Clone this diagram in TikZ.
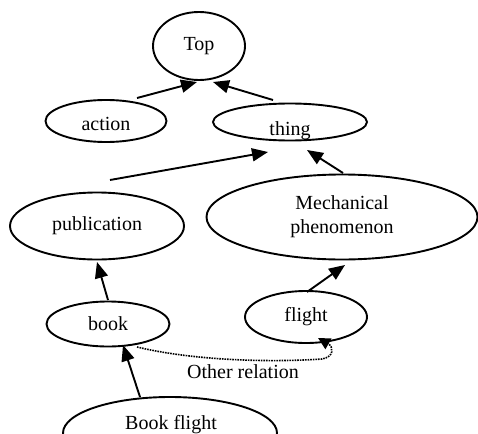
\documentclass[tikz,border=0pt]{standalone}
\usepackage{fontspec}
\setmainfont{Liberation Serif}
\usetikzlibrary{shapes.geometric,arrows.meta,calc}
\begin{document}
\begin{tikzpicture}[x=1pt,y=-1pt,
  concept/.style={ellipse,draw,line width=1.9pt,inner sep=0pt,
    font=\fontsize{20}{24}\selectfont,align=center},
  caption/.style={font=\fontsize{20}{24}\selectfont},
  isa/.style={line width=1.9pt,-{Triangle[length=16pt,width=13pt]}},
  relation/.style={line width=1.6pt,densely dotted,-{Triangle[length=12pt,width=12pt]}}]
\useasboundingbox (0,0) rectangle (478,433);
\clip (0,0) rectangle (478,433);
\fill[white] (0,0) rectangle (478,433);

% concept nodes
\node[concept,minimum width=92pt,minimum height=68pt] (top) at (199,46) {Top};
\node[concept,minimum width=121pt,minimum height=42pt] (action) at (106,121) {};
\node[caption] (actionlabel) at (106,124) {action};
\node[concept,minimum width=154pt,minimum height=37pt] (thing) at (290,122) {};
\begin{scope}
  \clip (thing.center) ellipse [x radius=76pt,y radius=17.5pt];
  \node[caption] (thinglabel) at (290,131) {thing};
\end{scope}
\node[concept,minimum width=174pt,minimum height=67pt] (pub) at (97,226) {publication};
\node[concept,minimum width=271pt,minimum height=85pt] (mech) at (342,217) {Mechanical\\phenomenon};
\node[concept,minimum width=123pt,minimum height=45pt] (book) at (108,324) {book};
\node[concept,minimum width=122pt,minimum height=52pt] (flight) at (306,317) {flight};
\node[concept,minimum width=214pt,minimum height=72pt] (bookflight) at (170,433) {};
\node[caption] (bflabel) at (171,425) {Book flight};

% is-a links
\draw[isa] ($(action)+(31,-23)$) -- ($(top)+(-2,36)$);
\draw[isa] ($(thing)+(-17,-22)$) -- ($(top)+(14,36)$);
\draw[isa] ($(pub)+(13,-46)$) -- ($(thing)+(-22,30)$);
\draw[isa] ($(mech)+(1,-44)$) -- ($(thing)+(17,28)$);
\draw[isa] ($(book)+(0,-24)$) -- ($(pub)+(0,36)$);
\draw[isa] ($(flight)+(1,-25)$) -- ($(mech)+(3,48)$);
\draw[isa] ($(bookflight)+(-30,-36)$) -- ($(book)+(15,21)$);

% other relation
\draw[relation] ($(book)+(29,23)$) .. controls (200,362) and (280,362) .. (322,359)
  .. controls (334,357) and (334,347) .. ($(flight)+(12,21)$);
\node[caption] (rel) at (243,372) {Other relation};
\end{tikzpicture}
\end{document}
